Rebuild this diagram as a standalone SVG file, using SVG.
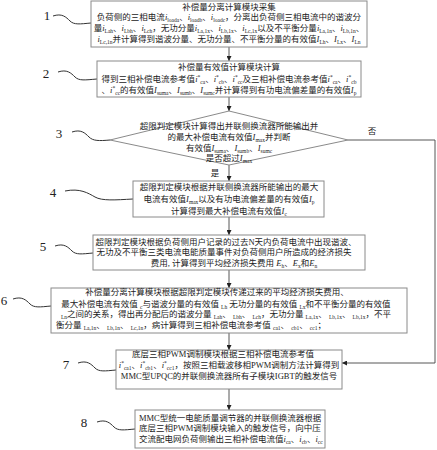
<svg xmlns="http://www.w3.org/2000/svg" width="437" height="450" viewBox="0 0 437 450">
<defs>
<marker id="ah" viewBox="0 0 8 8" refX="8" refY="4" markerWidth="5" markerHeight="5" markerUnits="userSpaceOnUse" orient="auto">
<path d="M0,0 L8,4 L0,8 Z" fill="#222"/>
</marker>
</defs>
<style>
.bx{fill:#fff;stroke:#8a8a8a;stroke-width:1}
.t{font-family:"Liberation Serif","Noto Sans CJK SC",serif;font-size:8.5px;fill:#222}
.c{text-anchor:middle}
.v{font-style:italic}
.s{font-size:5.5px}
.n{font-family:"Liberation Serif",serif;font-size:13px;fill:#222;text-anchor:middle}
.sq{fill:none;stroke:#333;stroke-width:1}
.cn{fill:none;stroke:#444;stroke-width:0.9}
</style>
<rect width="437" height="450" fill="#fff"/>

<g id="connectors">
<line class="cn" x1="229" y1="47" x2="229" y2="61" marker-end="url(#ah)"/>
<line class="cn" x1="229" y1="97" x2="229" y2="111" marker-end="url(#ah)"/>
<line class="cn" x1="229" y1="165" x2="229" y2="181" marker-end="url(#ah)"/>
<line class="cn" x1="229" y1="217" x2="229" y2="235" marker-end="url(#ah)"/>
<line class="cn" x1="229" y1="270" x2="229" y2="288" marker-end="url(#ah)"/>
<line class="cn" x1="229" y1="333" x2="229" y2="350" marker-end="url(#ah)"/>
<line class="cn" x1="229" y1="389" x2="229" y2="410" marker-end="url(#ah)"/>
<polyline class="cn" points="348,140 435,140 435,363 342,363" marker-end="url(#ah)"/>
<text class="t" x="372" y="134" text-anchor="middle">否</text>
<text class="t" x="215" y="176" text-anchor="middle">是</text>
</g>

<g id="label1"><text class="n" x="47" y="20">1</text><path class="sq" d="M53,16 C62,13 66,17 70,21 C74,25 80,24 91,23"/></g>
<g id="label2"><text class="n" x="46" y="78">2</text><path class="sq" d="M58,72 C67,69 71,73 75,77 C79,81 85,80 97,79"/></g>
<g id="label3"><text class="n" x="59" y="138">3</text><path class="sq" d="M72,132 C81,129 85,133 89,137 C93,141 99,141 110,140"/></g>
<g id="label4"><text class="n" x="53" y="197">4</text><path class="sq" d="M65,191 C80,188 88,193 95,197 C102,201 115,200 133,199"/></g>
<g id="label5"><text class="n" x="43" y="251">5</text><path class="sq" d="M55,246 C64,243 68,247 72,251 C76,255 82,254 93,253"/></g>
<g id="label6"><text class="n" x="4" y="305">6</text><path class="sq" d="M13,299 C22,296 26,300 30,304 C34,308 40,307 51,306"/></g>
<g id="label7"><text class="n" x="66" y="369">7</text><path class="sq" d="M78,363 C87,360 91,364 95,368 C99,372 105,371 116,370"/></g>
<g id="label8"><text class="n" x="84" y="427">8</text><path class="sq" d="M97,422 C106,419 110,423 114,427 C118,431 124,430 135,429"/></g>

<g id="node1">
<rect class="bx" x="91" y="1" width="276" height="46"/>
<text class="t c" x="229" y="10">补偿量分离计算模块采集</text>
<text class="t c" x="229" y="20">负荷侧的三相电流<tspan class="v">i</tspan><tspan class="s" dy="2">loada</tspan><tspan dy="-2">、</tspan><tspan class="v">i</tspan><tspan class="s" dy="2">loadb</tspan><tspan dy="-2">、</tspan><tspan class="v">i</tspan><tspan class="s" dy="2">loadc</tspan><tspan dy="-2">，分离出负荷侧三相电流中的谐波分</tspan></text>
<text class="t c" x="229" y="31">量<tspan class="v">i</tspan><tspan class="s" dy="2">Lah</tspan><tspan dy="-2">、</tspan><tspan class="v">i</tspan><tspan class="s" dy="2">Lbh</tspan><tspan dy="-2">、</tspan><tspan class="v">i</tspan><tspan class="s" dy="2">Lch</tspan><tspan dy="-2">，无功分量</tspan><tspan class="v">i</tspan><tspan class="s" dy="2">La,1x</tspan><tspan dy="-2">、</tspan><tspan class="v">i</tspan><tspan class="s" dy="2">Lb,1x</tspan><tspan dy="-2">、</tspan><tspan class="v">i</tspan><tspan class="s" dy="2">Lc,1x</tspan><tspan dy="-2">以及不平衡分量</tspan><tspan class="v">i</tspan><tspan class="s" dy="2">La,1n</tspan><tspan dy="-2">、</tspan><tspan class="v">i</tspan><tspan class="s" dy="2">Lb,1n</tspan><tspan dy="-2">、</tspan></text>
<text class="t c" x="229" y="42"><tspan class="v">i</tspan><tspan class="s" dy="2">Lc,1n</tspan><tspan dy="-2">并计算得到谐波分量、无功分量、不平衡分量的有效值</tspan><tspan class="v">I</tspan><tspan class="s" dy="2">Lh</tspan><tspan dy="-2">、</tspan><tspan class="v">I</tspan><tspan class="s" dy="2">Lx</tspan><tspan dy="-2">、</tspan><tspan class="v">I</tspan><tspan class="s" dy="2">Ln</tspan></text>
</g>

<g id="node2">
<rect class="bx" x="97" y="61" width="264" height="36"/>
<text class="t c" x="229" y="70">补偿量有效值计算模块计算</text>
<text class="t c" x="229" y="82">得到三相补偿电流参考值<tspan class="v">i</tspan><tspan class="s" dy="-3">*</tspan><tspan class="s" dy="5">ca</tspan><tspan dy="-2">、</tspan><tspan class="v">i</tspan><tspan class="s" dy="-3">*</tspan><tspan class="s" dy="5">cb</tspan><tspan dy="-2">、</tspan><tspan class="v">i</tspan><tspan class="s" dy="-3">*</tspan><tspan class="s" dy="5">cc</tspan><tspan dy="-2">及三相补偿电流参考值</tspan><tspan class="v">i</tspan><tspan class="s" dy="-3">*</tspan><tspan class="s" dy="5">ca</tspan><tspan dy="-2">、</tspan><tspan class="v">i</tspan><tspan class="s" dy="-3">*</tspan><tspan class="s" dy="5">cb</tspan></text>
<text class="t c" x="229" y="93">、<tspan class="v">i</tspan><tspan class="s" dy="-3">*</tspan><tspan class="s" dy="5">cc</tspan><tspan dy="-2">的有效值</tspan><tspan class="v">I</tspan><tspan class="s" dy="2">suma</tspan><tspan dy="-2">、</tspan><tspan class="v">I</tspan><tspan class="s" dy="2">sumb</tspan><tspan dy="-2">、</tspan><tspan class="v">I</tspan><tspan class="s" dy="2">sumc</tspan><tspan dy="-2">并计算得到有功电流偏差量的有效值</tspan><tspan class="v">I</tspan><tspan class="s" dy="2">p</tspan></text>
</g>

<g id="node3">
<polygon class="bx" points="229,111 348,140 229,165 110,140"/>
<text class="t c" x="229" y="129">超限判定模块计算得出并联侧换流器所能输出并</text>
<text class="t c" x="229" y="140">的最大补偿电流有效值<tspan class="v">I</tspan><tspan class="s" dy="2">max</tspan><tspan dy="-2">并判断</tspan></text>
<text class="t c" x="229" y="151">有效值<tspan class="v">I</tspan><tspan class="s" dy="2">suma</tspan><tspan dy="-2">、</tspan><tspan class="v">I</tspan><tspan class="s" dy="2">sumb</tspan><tspan dy="-2">、</tspan><tspan class="v">I</tspan><tspan class="s" dy="2">sumc</tspan></text>
<text class="t c" x="229" y="161">是否超过<tspan class="v">I</tspan><tspan class="s" dy="2">max</tspan></text>
</g>

<g id="node4">
<rect class="bx" x="133" y="181" width="191" height="36"/>
<text class="t c" x="229" y="190">超限判定模块根据并联侧换流器所能输出的最大</text>
<text class="t c" x="229" y="202">电流有效值<tspan class="v">I</tspan><tspan class="s" dy="2">max</tspan><tspan dy="-2">以及有功电流偏差量的有效值</tspan><tspan class="v">I</tspan><tspan class="s" dy="2">p</tspan></text>
<text class="t c" x="229" y="214">计算得到最大补偿电流有效值<tspan class="v">I</tspan><tspan class="s" dy="2">c</tspan></text>
</g>

<g id="node5">
<rect class="bx" x="93" y="235" width="272" height="35"/>
<text class="t c" x="226" y="245">超限判定模块根据负荷侧用户记录的过去N天内负荷电流中出现谐波、</text>
<text class="t c" x="224" y="255">无功及不平衡三类电流电能质量事件对负荷侧用户所造成的经济损失</text>
<text class="t c" x="234" y="266">费用, 计算得到平均经济损失费用 <tspan class="v">E</tspan><tspan class="s" dy="2">h</tspan><tspan dy="-2">、</tspan><tspan class="v">E</tspan><tspan class="s" dy="2">x</tspan><tspan dy="-2">和</tspan><tspan class="v">E</tspan><tspan class="s" dy="2">n</tspan></text>
</g>

<g id="node6">
<rect class="bx" x="51" y="288" width="356" height="45"/>
<text class="t c" x="217" y="295">补偿量分离计算模块根据超限判定模块传递过来的平均经济损失费用、</text>
<text class="t c" x="226" y="307">最大补偿电流有效值 <tspan class="s" dy="2">c</tspan><tspan dy="-2">与谐波分量的有效值 </tspan><tspan class="s" dy="2">Lh</tspan><tspan dy="-2"> 无功分量的有效值 </tspan><tspan class="s" dy="2">Lx</tspan><tspan dy="-2">和不平衡分量的有效值</tspan></text>
<text class="t c" x="226" y="317"><tspan class="s" dy="2">Ln</tspan><tspan dy="-2">之间的关系，得出再分配后的谐波分量 </tspan><tspan class="s" dy="2">Lah</tspan><tspan dy="-2">、 </tspan><tspan class="s" dy="2">Lbh</tspan><tspan dy="-2">、 </tspan><tspan class="s" dy="2">Lch</tspan><tspan dy="-2">，无功分量 </tspan><tspan class="s" dy="2">La,1x</tspan><tspan dy="-2">、 </tspan><tspan class="s" dy="2">Lb,1x</tspan><tspan dy="-2">、 </tspan><tspan class="s" dy="2">Lb,1x</tspan><tspan dy="-2">，不平</tspan></text>
<text class="t c" x="191" y="328">衡分量 <tspan class="s" dy="2">La,1n</tspan><tspan dy="-2">、 </tspan><tspan class="s" dy="2">Lb,1n</tspan><tspan dy="-2">、 </tspan><tspan class="s" dy="2">Lc,1n</tspan><tspan dy="-2">，病计算得到三相补偿电流参考值 </tspan><tspan class="s" dy="2">ca1</tspan><tspan dy="-2">、 </tspan><tspan class="s" dy="2">cb1</tspan><tspan dy="-2">、 </tspan><tspan class="s" dy="2">cc1</tspan><tspan dy="-2">；</tspan></text>
</g>

<g id="node7">
<rect class="bx" x="116" y="350" width="226" height="39"/>
<text class="t c" x="223" y="357">底层三相PWM调制模块根据三相补偿电流参考值</text>
<text class="t c" x="229" y="368"><tspan class="v">i</tspan><tspan class="s" dy="-3">*</tspan><tspan class="s" dy="5">ca1</tspan><tspan dy="-2">、</tspan><tspan class="v">i</tspan><tspan class="s" dy="-3">*</tspan><tspan class="s" dy="5">cb1</tspan><tspan dy="-2">、</tspan><tspan class="v">i</tspan><tspan class="s" dy="-3">*</tspan><tspan class="s" dy="5">cc1</tspan><tspan dy="-2">，按照三相载波移相PWM调制方法计算得到</tspan></text>
<text class="t c" x="229" y="379">MMC型UPQC的并联侧换流器所有子模块IGBT的触发信号</text>
</g>

<g id="node8">
<rect class="bx" x="135" y="410" width="190" height="38"/>
<text class="t" x="139" y="421">MMC型统一电能质量调节器的并联侧换流器根据</text>
<text class="t" x="139" y="431">底层三相PWM调制模块输入的触发信号，向中压</text>
<text class="t" x="139" y="442">交流配电网负荷侧输出三相补偿电流值<tspan class="v">i</tspan><tspan class="s" dy="2">ca</tspan><tspan dy="-2">、</tspan><tspan class="v">i</tspan><tspan class="s" dy="2">cb</tspan><tspan dy="-2">、</tspan><tspan class="v">i</tspan><tspan class="s" dy="2">cc</tspan></text>
</g>
</svg>
